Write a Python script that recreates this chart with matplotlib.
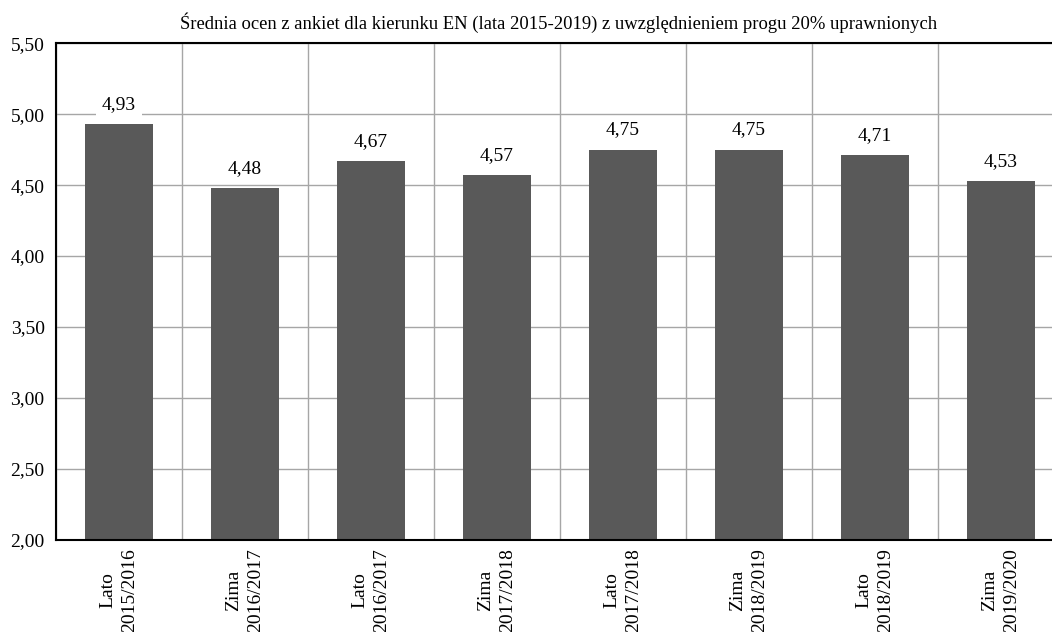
import matplotlib.pyplot as plt
import numpy as np

categories = ["Lato\n2015/2016", "Zima\n2016/2017", "Lato\n2016/2017", "Zima\n2017/2018",
              "Lato\n2017/2018", "Zima\n2018/2019", "Lato\n2018/2019", "Zima\n2019/2020"]
values = [4.93, 4.48, 4.67, 4.57, 4.75, 4.75, 4.71, 4.53]
y_ticks = [2.0, 2.5, 3.0, 3.5, 4.0, 4.5, 5.0, 5.5]
title = "Średnia ocen z ankiet dla kierunku EN (lata 2015-2019) z uwzględnieniem progu 20% uprawnionych"


def fmt(v):
    return f"{v:.2f}".replace(".", ",")


def main() -> None:
    plt.rcParams['font.family'] = ['Liberation Serif', 'DejaVu Serif']
    fig = plt.figure(figsize=(10.52, 6.32), dpi=100)
    ax = fig.add_axes([55.7 / 1052, 1 - 539.7 / 632, 1008 / 1052, 496.4 / 632])

    x = np.arange(len(values))
    ax.bar(x, values, width=0.54, color="#595959", zorder=2)
    ax.set_xlim(-0.5, len(values) - 0.5)
    ax.set_ylim(2.0, 5.5)
    ax.set_yticks(y_ticks)
    ax.set_yticklabels([fmt(v) for v in y_ticks], fontsize=14)
    ax.set_xticks(x)
    ax.set_xticklabels(categories, rotation=90, fontsize=14, linespacing=1.4)
    ax.set_xticks(np.arange(len(values) + 1) - 0.5, minor=True)
    ax.tick_params(axis='both', which='both', length=0)
    ax.tick_params(axis='y', pad=8)
    ax.tick_params(axis='x', pad=6)

    ax.grid(axis='y', which='major', color="#a6a6a6", linewidth=1.0, zorder=0)
    ax.grid(axis='x', which='minor', color="#a6a6a6", linewidth=1.0, zorder=0)
    ax.grid(axis='x', which='major', visible=False)
    ax.set_axisbelow(True)

    for s in ['left', 'top', 'bottom']:
        ax.spines[s].set_color('black')
        ax.spines[s].set_linewidth(1.5)
    ax.spines['right'].set_visible(False)

    for xi, v in zip(x, values):
        ax.annotate(fmt(v), (xi, v), xytext=(0, 8), textcoords='offset points',
                    ha='center', va='bottom', fontsize=14,
                    bbox=dict(boxstyle='square,pad=0.3', fc='white', ec='none'), zorder=3)

    fig.text(559 / 1052, 1 - 23 / 632, title, ha='center', va='center', fontsize=13.4)
    fig.savefig("out.png", dpi=100)


if __name__ == "__main__":
    main()
